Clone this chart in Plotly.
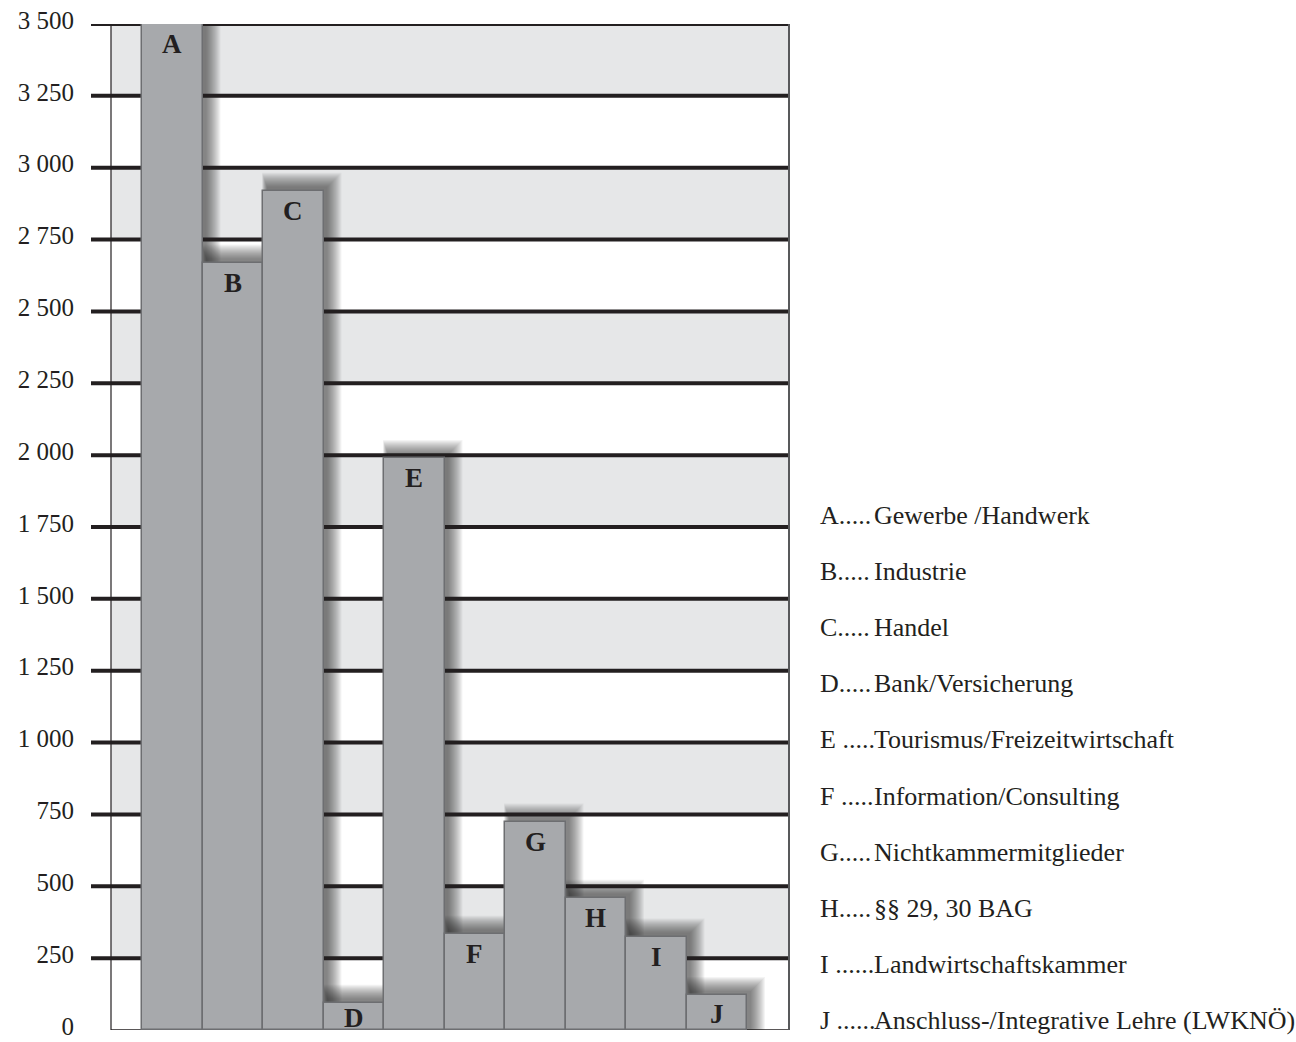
import plotly.graph_objects as go

# Lehrlinge nach Sparten
codes = ["A", "B", "C", "D", "E", "F", "G", "H", "I", "J"]
values = [3500, 2670, 2920, 95, 1990, 335, 725, 460, 325, 122]
prefixes = ["A.....", "B.....", "C.....", "D.....", "E .....", "F .....",
            "G.....", "H.....", "I ......", "J ......"]
names = ["Gewerbe /Handwerk", "Industrie", "Handel", "Bank/Versicherung",
         "Tourismus/Freizeitwirtschaft", "Information/Consulting",
         "Nichtkammermitglieder", "§§ 29, 30 BAG", "Landwirtschaftskammer",
         "Anschluss-/Integrative Lehre (LWKNÖ)"]
tick_vals = list(range(0, 3501, 250))
tick_text = ["0", "250", "500", "750", "1 000", "1 250", "1 500", "1 750",
             "2 000", "2 250", "2 500", "2 750", "3 000", "3 250", "3 500"]

W, H = 1296, 1042
L, R, T, B = 111, 507, 24, 12
PW, PH = W - L - R, H - T - B
SLOT = 60.5                       # pixel width of one bar
XMIN = -0.5 - 31 / SLOT
XMAX = 9.5 + 42 / SLOT
YMAX = 3500
px_x = 1 / SLOT                   # x data units per pixel
px_y = YMAX / PH                  # y data units per pixel

INK = "#231f20"
FONT = "Liberation Serif, Times New Roman, serif"

shapes = []

# alternating light bands
for lo in range(250, 3500, 500):
    shapes.append(dict(type="rect", xref="paper", yref="y", x0=0, x1=1,
                       y0=lo, y1=lo + 250, fillcolor="#e6e7e8",
                       line=dict(width=0), layer="below"))

# soft drop shadows behind the bars (stacked translucent layers)
DX, DY, N = 4, 4, 14
for i, v in enumerate(values):
    for r in range(N, -1, -1):
        shapes.append(dict(
            type="rect", xref="x", yref="y",
            x0=i - 0.5 + (DX - r * 0.35) * px_x, x1=i + 0.5 + (DX + r) * px_x,
            y0=0, y1=min(v + (DY + r) * px_y, YMAX + 10 * px_y),
            fillcolor=INK, opacity=0.05, line=dict(width=0), layer="below"))

# heavy grid lines with outside tick stubs
for t in tick_vals[1:]:
    shapes.append(dict(type="line", xref="paper", yref="y",
                       x0=-20 / PW, x1=1, y0=t, y1=t,
                       line=dict(color=INK, width=4), layer="between"))

# frame
shapes.append(dict(type="line", xref="paper", yref="y", x0=0, x1=1, y0=0, y1=0,
                   line=dict(color=INK, width=1.5), layer="between"))
shapes.append(dict(type="line", xref="paper", yref="y", x0=0, x1=0, y0=0, y1=YMAX,
                   line=dict(color=INK, width=1.2), layer="between"))
shapes.append(dict(type="line", xref="paper", yref="y", x0=1, x1=1, y0=0, y1=YMAX,
                   line=dict(color="#58595b", width=2), layer="between"))

fig = go.Figure(go.Bar(
    x=list(range(len(values))), y=values, width=1,
    marker=dict(color="#a7a9ac", line=dict(color="#6d6e71", width=1.5)),
    hoverinfo="skip",
))

annotations = []
# letters inside the bars
for i, (c, v) in enumerate(zip(codes, values)):
    hpx = v / px_y
    off = min(20, hpx / 2 + 1.5)
    annotations.append(dict(x=i, y=v, xref="x", yref="y", text=f"<b>{c}</b>",
                            showarrow=False, yanchor="middle", yshift=-off,
                            font=dict(family=FONT, size=27, color=INK)))

# key on the right
for k, (p, n) in enumerate(zip(prefixes, names)):
    yc = 515 + k * 56.2
    yp = 1 - (yc - T) / PH
    annotations.append(dict(x=(818 - L) / PW, y=yp, xref="paper", yref="paper",
                            text=p, showarrow=False, xanchor="left", yanchor="middle",
                            font=dict(family=FONT, size=26, color=INK)))
    annotations.append(dict(x=(872 - L) / PW, y=yp, xref="paper", yref="paper",
                            text=n, showarrow=False, xanchor="left", yanchor="middle",
                            font=dict(family=FONT, size=26, color=INK)))

fig.update_layout(
    width=W, height=H,
    margin=dict(l=L, r=R, t=T, b=B, autoexpand=False),
    paper_bgcolor="white", plot_bgcolor="white",
    showlegend=False, bargap=0,
    shapes=shapes, annotations=annotations,
    xaxis=dict(range=[XMIN, XMAX], showticklabels=False, showgrid=False,
               zeroline=False, showline=False, ticks="", automargin=False),
    yaxis=dict(range=[0, YMAX], tickvals=tick_vals, ticktext=tick_text,
               showgrid=False, zeroline=False, showline=False, ticks="",
               ticklabelstandoff=36, ticklabelshift=-4,
               ticklabeloverflow="allow", automargin=False,
               tickfont=dict(family=FONT, size=25, color=INK)),
)

fig.write_html("out.html")
